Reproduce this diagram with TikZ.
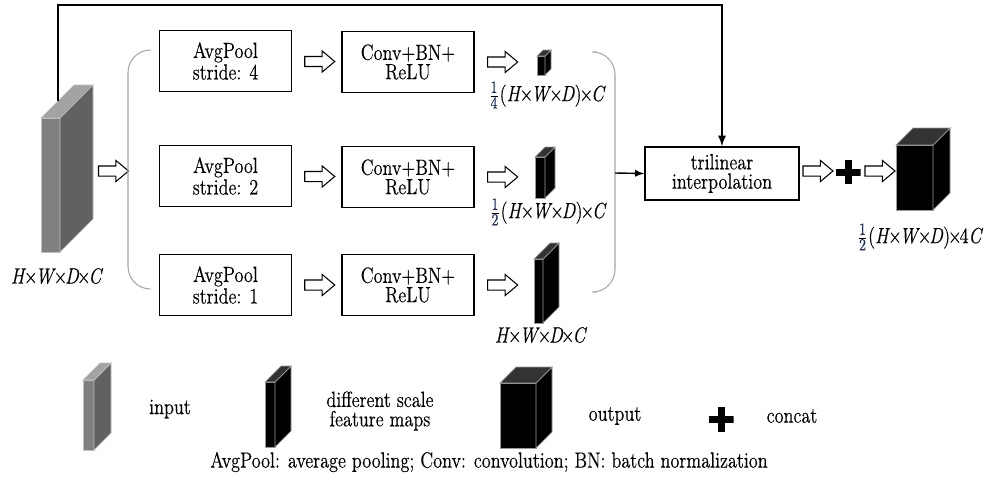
\documentclass[tikz,border=0pt]{standalone}
\usepackage{fontspec}
\setmainfont{Latin Modern Roman}[FakeStretch=0.83, FakeBold=0.4]
\usetikzlibrary{%
  arrows,%
  calc,%
  positioning,%
  shapes.arrows%
}
\definecolor{fracblue}{RGB}{28,46,96}
\tikzset{>=latex}
\tikzset{every node/.style={font=\fontsize{12.5}{11}\selectfont},
  box/.style={draw, line width=0.8pt, minimum width=2.64cm, minimum height=1.22cm,
    align=center, inner sep=0pt},
  fat/.style={single arrow, draw, line width=0.6pt, fill=white, minimum height=0.6cm,
    inner sep=0.09cm, single arrow head extend=0.11cm, single arrow tip angle=80},
  brace/.style={draw=black!35, line width=0.6pt, rounded corners=0.45cm},
  concat/.style={minimum size=0.5cm, inner sep=0pt,
    path picture={\draw[line width=0.14cm]
      (path picture bounding box.west) -- (path picture bounding box.east)
      (path picture bounding box.north) -- (path picture bounding box.south);}},
  inp front/.style={fill=black!50, draw=black!25, line width=0.4pt},
  inp side/.style={fill=black!62, draw=black!25, line width=0.4pt},
  inp top/.style={fill=black!36, draw=black!25, line width=0.4pt},
  fm front/.style={fill=black, draw=black!40, line width=0.4pt},
  fm side/.style={fill=black, draw=black!40, line width=0.4pt},
  fm top/.style={fill=black!80, draw=black!40, line width=0.4pt}}

% cube: style prefix, x, y of front top-left corner, width, height, depth
\newcommand{\featcube}[6]{%
  \filldraw[#1 front] (#2,#3) rectangle ++(#4,#5);
  \filldraw[#1 side] (#2+#4,#3) -- ++(#6,-#6) -- ++(0,#5) -- ++(-#6,#6) -- cycle;
  \filldraw[#1 top] (#2,#3) -- ++(#6,-#6) -- ++(#4,0) -- ++(-#6,#6) -- cycle;
}
\newcommand{\frsize}{\fontsize{9.6}{10}\selectfont}
\newcommand{\fr}[2]{$\frac{\hbox{\frsize\color{fracblue}#1}}{\hbox{\frsize\color{fracblue}#2}}$}
\newcommand{\tm}{\kern-0.1em×\kern-0.1em}
\newcommand{\hwdc}{\textit{H}\tm\textit{W}\tm\textit{D}}

\begin{document}
\begin{tikzpicture}[x=0.02cm, y=-0.02cm]
  \useasboundingbox (0,0) rectangle (988,480);

  % input volume
  \featcube{inp}{41}{118}{19}{134}{33}
  \coordinate (inp top) at (58,101);
  \node (inplab) at (57,276) {\hwdc\tm\textit{C}};
  \node[fat] (a0) at (110.5,171) {};
  \draw[brace] (150,50) -- (128,50) -- (128,289) -- (150,289);

  % three pooling branches
  \node[box] (pool4) at (225.5,61) {AvgPool\\stride: 4};
  \node[box] (pool2) at (225.5,176) {AvgPool\\stride: 2};
  \node[box] (pool1) at (225.5,285) {AvgPool\\stride: 1};
  \node[box] (conv4) at (408,62) {Conv+BN+\\ReLU};
  \node[box] (conv2) at (408,177) {Conv+BN+\\ReLU};
  \node[box] (conv1) at (408,285) {Conv+BN+\\ReLU};
  \foreach \s in {4,2,1}{
    \node[fat] (p\s) at ($(pool\s.east)!0.5!(conv\s.west)$) {};
    \node[fat] (c\s) at ($(conv\s.east)+(25,0)$) {};
  }

  % feature maps
  \featcube{fm}{537}{56}{8}{19}{6}
  \featcube{fm}{535}{157}{10}{41}{10}
  \featcube{fm}{534}{259}{9}{64}{16}
  \node (lab4) at (547,95) {\fr{1}{4}(\hwdc)\tm\textit{C}};
  \node (lab2) at (548,212) {\fr{1}{2}(\hwdc)\tm\textit{C}};
  \node (lab1) at (541,335) {\hwdc\tm\textit{C}};
  \draw[brace] (597,52) -- (615,52) -- (615,292) -- (597,292);
  \coordinate (merge) at (615,173);

  % upsampling and concat
  \node[box, minimum width=3.08cm, minimum height=1.06cm] (tri) at (722,173.5)
    {trilinear\\interpolation};
  \draw[->, line width=0.8pt] (merge) -- (tri.west);
  \draw[->, line width=1.1pt] (inp top) -- ++(0,-96) -| (tri.north);
  \node[fat] (a5) at (815,171) {};
  \node[concat] (cat) at (848,172) {};
  \node[fat] (a6) at (877,171) {};
  \featcube{fm}{896}{145}{37}{65}{17}
  \node (outlab) at (920,237) {\fr{1}{2}(\hwdc)\tm4\textit{C}};

  % legend
  \featcube{inp}{83}{380}{11}{70}{17}
  \node (leg1) at (170,409) {input};
  \featcube{fm}{265}{382}{10}{65}{16}
  \node[align=center] (leg2) at (380,411) {different scale\\feature maps};
  \featcube{fm}{500}{383}{36}{65}{16}
  \node (leg3) at (615,416) {output};
  \node[concat] (leg4) at (721,419) {};
  \node (leg5) at (792,416) {concat};
  \node (note) at (489,462)
    {AvgPool: average pooling; Conv: convolution; BN: batch normalization};
\end{tikzpicture}
\end{document}
